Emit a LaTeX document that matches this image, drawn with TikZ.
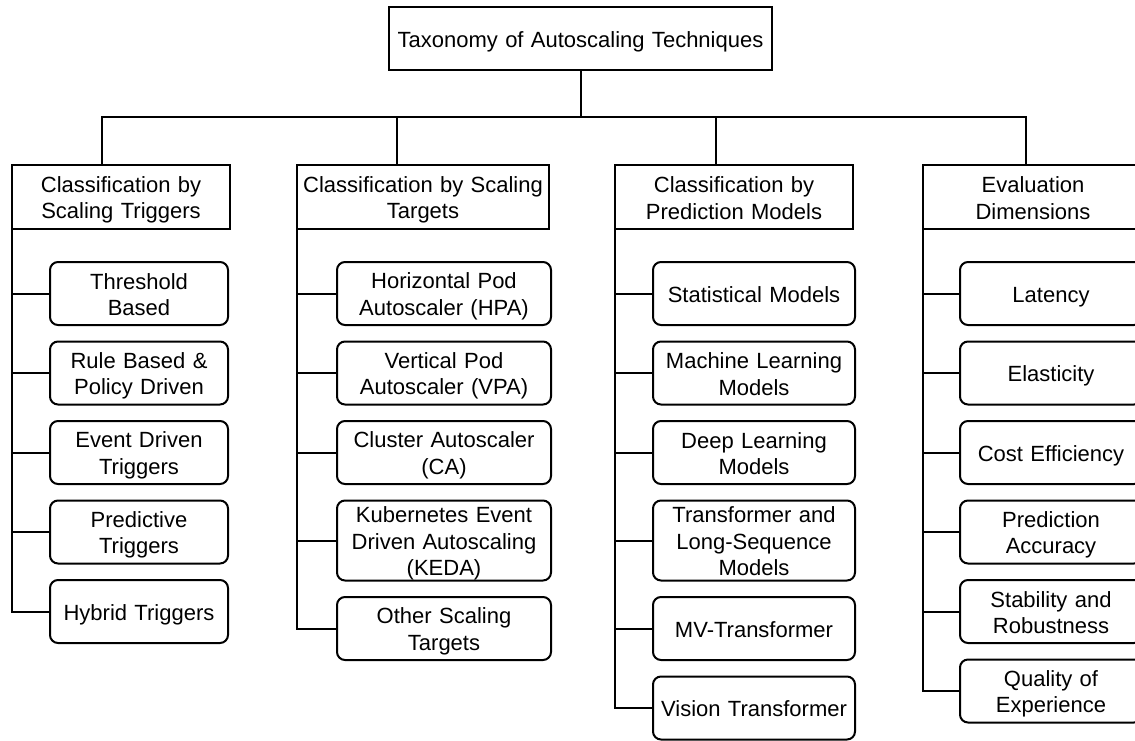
\documentclass[tikz,border=0pt]{standalone}
\usepackage{fontspec}
\setmainfont{Liberation Sans}
\usetikzlibrary{positioning}

\begin{document}
\begin{tikzpicture}[x=1pt,y=-1pt,line width=2pt,node distance=16.5pt,
    every node/.style={font=\fontsize{22}{26.5}\selectfont,align=center,inner xsep=2pt,inner ysep=0pt,outer sep=0pt,
      execute at begin node={\rule{0pt}{22pt}},execute at end node={\rule[-4.5pt]{0pt}{4.5pt}}},
    top/.style={draw,minimum height=63pt},
    cat/.style={draw,minimum height=64pt},
    leaf/.style={draw,rounded corners=8pt,minimum height=63pt},
    tall/.style={minimum height=80pt}]
  \useasboundingbox (0,0) rectangle (1135,740);

  \node[top,text width=379pt]	(tax)	at (580.5,38.5)	{Taxonomy of Autoscaling Techniques};

  \node[cat,text width=214pt]	(trig)	at (121,197)	{Classification by\\Scaling Triggers};
  \node[cat,text width=248pt]	(targ)	at (423,197)	{Classification by Scaling\\Targets};
  \node[cat,text width=234pt]	(pred)	at (734,197)	{Classification by\\Prediction Models};
  \node[cat,text width=216pt]	(eval)	at (1033,197)	{Evaluation\\Dimensions};

  \coordinate (d1) at (102,117);
  \coordinate (d2) at (397,117);
  \coordinate (d3) at (716,117);
  \coordinate (d4) at (1026,117);

  \tikzset{every node/.append style={leaf}}
  \node[text width=174pt]	(t1)	[below left=33pt and 2pt of trig.south east]	{Threshold\\Based};
  \node[text width=174pt]	(t2)	[below=of t1]	{Rule Based \&\\Policy Driven};
  \node[text width=174pt]	(t3)	[below=of t2]	{Event Driven\\Triggers};
  \node[text width=174pt]	(t4)	[below=of t3]	{Predictive\\Triggers};
  \node[text width=174pt]	(t5)	[below=of t4]	{Hybrid Triggers};

  \node[text width=210pt]	(s1)	[below left=33pt and -2pt of targ.south east]	{Horizontal Pod\\Autoscaler (HPA)};
  \node[text width=210pt]	(s2)	[below=of s1]	{Vertical Pod\\Autoscaler (VPA)};
  \node[text width=210pt]	(s3)	[below=of s2]	{Cluster Autoscaler\\(CA)};
  \node[text width=210pt,tall]	(s4)	[below=of s3]	{Kubernetes Event\\Driven Autoscaling\\(KEDA)};
  \node[text width=210pt]	(s5)	[below=of s4]	{Other Scaling\\Targets};

  \node[text width=198pt]	(m1)	[below left=33pt and -2pt of pred.south east]	{Statistical Models};
  \node[text width=198pt]	(m2)	[below=of m1]	{Machine Learning\\Models};
  \node[text width=198pt]	(m3)	[below=of m2]	{Deep Learning\\Models};
  \node[text width=198pt,tall]	(m4)	[below=of m3]	{Transformer and\\Long-Sequence\\Models};
  \node[text width=198pt]	(m5)	[below=of m4]	{MV-Transformer};
  \node[text width=198pt]	(m6)	[below=of m5]	{Vision Transformer};

  \node[text width=178pt]	(e1)	[below left=33pt and 1pt of eval.south east]	{Latency};
  \node[text width=178pt]	(e2)	[below=of e1]	{Elasticity};
  \node[text width=178pt]	(e3)	[below=of e2]	{Cost Efficiency};
  \node[text width=178pt]	(e4)	[below=of e3]	{Prediction\\Accuracy};
  \node[text width=178pt]	(e5)	[below=of e4]	{Stability and\\Robustness};
  \node[text width=178pt]	(e6)	[below=of e5]	{Quality of\\Experience};

  \draw (tax.south) |- (d1) -- (d1 |- trig.north);
  \draw (tax.south) |- (d4) -- (d4 |- eval.north);
  \draw (d2) -- (d2 |- targ.north);
  \draw (d3) -- (d3 |- pred.north);

  \draw (trig.south west) |- (t5.west);
  \draw (targ.south west) |- (s5.west);
  \draw (pred.south west) |- (m6.west);
  \draw (eval.south west) |- (e6.west);
  \foreach \i in {1,...,4} \draw (trig.south west |- t\i.west) -- (t\i.west);
  \foreach \i in {1,...,4} \draw (targ.south west |- s\i.west) -- (s\i.west);
  \foreach \i in {1,...,5} \draw (pred.south west |- m\i.west) -- (m\i.west);
  \foreach \i in {1,...,5} \draw (eval.south west |- e\i.west) -- (e\i.west);
\end{tikzpicture}
\end{document}
